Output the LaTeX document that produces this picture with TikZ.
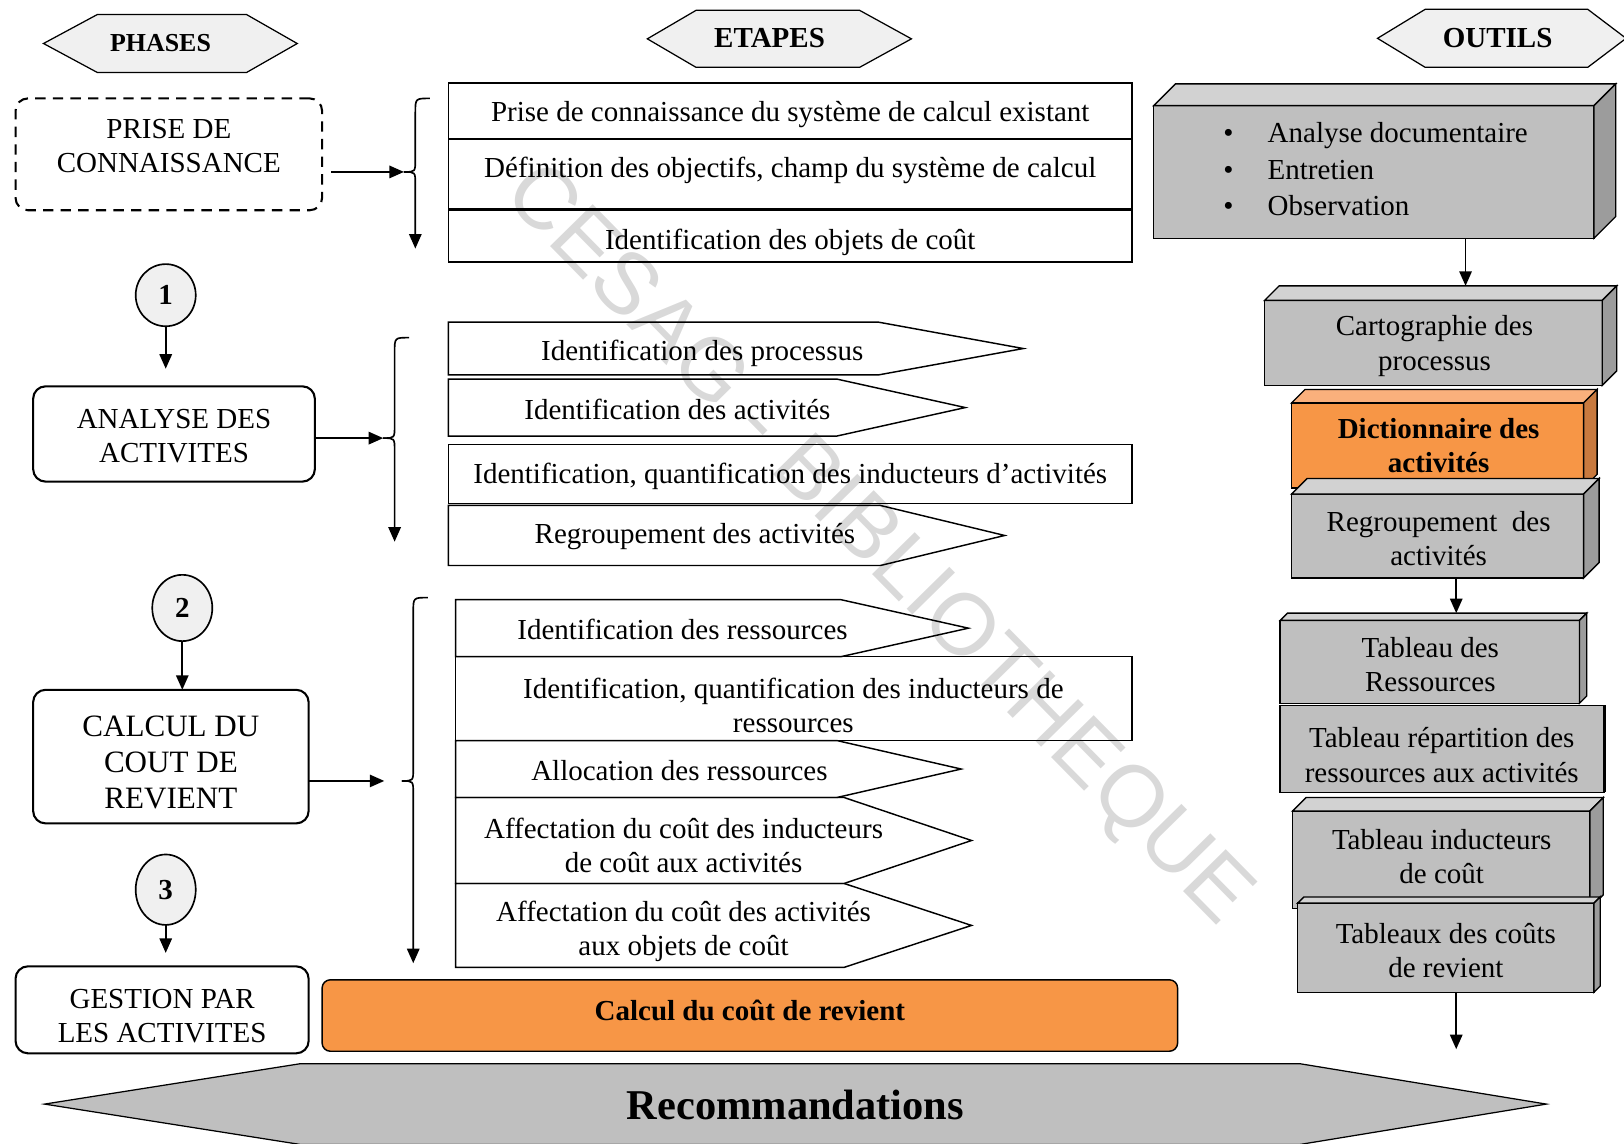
\documentclass[tikz,border=0pt]{standalone}
\usepackage{fontspec}
\setmainfont{Liberation Serif}
\newfontfamily\markfont{Liberation Sans}
\usetikzlibrary{arrows.meta,shapes.geometric}

\definecolor{hdrfill}{HTML}{F0F0F0}
\definecolor{boxfront}{HTML}{BFBFBF}
\definecolor{boxtop}{HTML}{D2D2D2}
\definecolor{boxside}{HTML}{9C9C9C}
\definecolor{orfront}{HTML}{F79646}
\definecolor{ortop}{HTML}{FAB07C}
\definecolor{orside}{HTML}{C97A3F}
\definecolor{recfill}{HTML}{BFBFBF}
\definecolor{stampgray}{HTML}{D9D9D9}

\newcommand\bodyfont{\fontsize{28}{33}\selectfont}
\newcommand\bigphase{\fontsize{30}{35}\selectfont}

% hexagonal banner: left tip x, left corner x, right corner x, right tip x, top y, bottom y, style
\newcommand\hexbanner[7]{%
  \filldraw[#7] (#1,{(#5+#6)/2}) -- (#2,#5) -- (#3,#5) -- (#4,{(#5+#6)/2}) -- (#3,#6) -- (#2,#6) -- cycle;}
% step with a pointed right end: left x, body end x, tip x, top y, bottom y
\newcommand\stepshape[5]{%
  \draw[etape] (#1,#4) -- (#2,#4) -- (#3,{(#4+#5)/2}) -- (#2,#5) -- (#1,#5) -- cycle;}
% top and side faces of a raised tool box: node, depth, top colour, side colour
\newcommand\cubefaces[4]{%
  \filldraw[fill=#3, line width=1.3pt] (#1.north west) -- ++(#2,-#2) -- ([shift={(#2,-#2)}]#1.north east) -- (#1.north east) -- cycle;
  \filldraw[fill=#4, line width=1.3pt] (#1.north east) -- ++(#2,-#2) -- ([shift={(#2,-#2)}]#1.south east) -- (#1.south east) -- cycle;}
% curly brace: spine x, top y, cusp y, bottom y, cusp name
\newcommand\bracearrow[5]{%
  \coordinate (#5) at (#1-11,#3);
  \draw[line width=1.6pt] (#1+14,#2) .. controls (#1,#2) .. (#1,#2+14) -- (#1,#3-12) .. controls (#1,#3) .. (#5);
  \draw[arr] (#5) .. controls (#1,#3) .. (#1,#3+12) -- (#1,#4);}

\begin{document}
\begin{tikzpicture}[x=1pt,y=-1pt,line join=miter,
  arr/.style={line width=1.6pt,-{Triangle[length=14pt,width=12pt]}},
  hdr/.style={fill=hdrfill,draw,line width=1.2pt},
  txt/.style={font=\bodyfont,inner sep=0pt,align=center},
  lc/.style={yshift=-3pt},
  boldtxt/.style={font=\bodyfont\bfseries,inner sep=0pt,align=center},
  phasebox/.style={draw,line width=2pt,rounded corners=12pt,fill=white,inner sep=0pt,outer sep=0pt},
  etape/.style={draw,line width=1.4pt},
  num/.style={ellipse,draw,line width=1.6pt,fill=hdrfill,inner sep=0pt,outer sep=0pt,font=\bodyfont\bfseries},
  tool/.style={draw,line width=1.3pt,fill=boxfront,inner sep=0pt,outer sep=0pt},
  ortool/.style={draw,line width=1.3pt,fill=orfront,inner sep=0pt,outer sep=0pt}]
\useasboundingbox (0,0) rectangle (1568,1104);

% ---- library stamp, behind the steps ----
\node[inner sep=0pt,rotate=-45.5,text=stampgray,font=\markfont\fontsize{84}{84}\selectfont] (stamp) at (846,528) {CESAG - BIBLIOTHEQUE};

% ---- column headers ----
\hexbanner{42}{94}{238}{287}{14}{70}{hdr}
\node[boldtxt,font=\fontsize{25}{30}\selectfont\bfseries] (hphases) at (155,42) {PHASES};
\hexbanner{625}{672}{830}{880}{10}{65}{hdr}
\node[boldtxt] (hetapes) at (743,37) {ETAPES};
\hexbanner{1330}{1376}{1533}{1570}{9}{65}{hdr}
\node[boldtxt] (houtils) at (1446,37) {OUTILS};

% ---- phases ----
\node[phasebox,dashed,dash pattern=on 10pt off 7pt,minimum width=296pt,minimum height=108pt] (prise) at (163,149) {};
\node[txt] (prisetxt) at (163,141) {PRISE DE\\CONNAISSANCE};

\node[num,minimum width=58pt,minimum height=60pt] (n1) at (160,285) {1};
\coordinate (n1end) at (160,356);
\draw[arr] (n1) -- (n1end);

\node[phasebox,minimum width=272pt,minimum height=92pt] (analyse) at (168,419) {};
\node[txt] (analysetxt) at (168,421) {ANALYSE DES\\ACTIVITES};

\node[num,minimum width=58pt,minimum height=64pt] (n2) at (176,587) {2};

\node[phasebox,minimum width=266pt,minimum height=129pt] (calcul) at (165,730.5) {};
\node[txt,font=\bigphase] (calcultxt) at (165,736) {CALCUL DU\\COUT DE\\REVIENT};
\draw[arr] (n2) -- (n2 |- calcul.north);

\node[num,minimum width=58pt,minimum height=68pt] (n3) at (160,859) {3};
\coordinate (n3end) at (160,920);
\draw[arr] (n3) -- (n3end);

\node[phasebox,minimum width=283pt,minimum height=84pt] (gestion) at (156.5,975) {};
\node[txt] (gestiontxt) at (156.5,981) {GESTION PAR\\LES ACTIVITES};

% ---- braces gathering the steps ----
\bracearrow{401}{95}{166}{240}{cusp1}
\draw[arr] (320,166) -- (cusp1);
\bracearrow{381}{326}{423}{523}{cusp2}
\draw[arr] (analyse.east |- cusp2) -- (cusp2);
\bracearrow{399}{577}{754}{930}{cusp3}
\coordinate (cusp3in) at (371,754);
\draw[arr] (calcul.east |- cusp3in) -- (cusp3in);

% ---- steps: first phase ----
\draw[etape] (433,80) rectangle (1093,134);
\draw[etape] (433,134) rectangle (1093,202);
\draw[etape] (433,203) rectangle (1093,253);
\node[txt,lc] (e11) at (763,108) {Prise de connaissance du système de calcul existant};
\node[txt,lc] (e12) at (763,162) {Définition des objectifs, champ du système de calcul};
\node[txt,lc] (e13) at (763,231) {Identification des objets de coût};

% ---- steps: second phase ----
\stepshape{433}{848}{988}{311}{362}
\node[txt,lc] (e21) at (678,338) {Identification des processus};
\stepshape{433}{808}{932}{366}{421}
\node[txt,lc] (e22) at (654,392) {Identification des activités};
\draw[etape] (433,429) rectangle (1093,486);
\node[txt,lc] (e23) at (763,457) {Identification, quantification des inducteurs d’activités};
\stepshape{433}{850}{970}{488}{546}
\node[txt,lc] (e24) at (671,515) {Regroupement des activités};

% ---- steps: third phase ----
\stepshape{440}{812}{935}{579}{634}
\node[txt,lc] (e31) at (659,605) {Identification des ressources};
\draw[etape] (440,634) rectangle (1093,715);
\node[txt,lc] (e32) at (766,678) {Identification, quantification des inducteurs de\\ressources};
\stepshape{440}{808}{928}{715}{770}
\node[txt,lc] (e33) at (656,741) {Allocation des ressources};
\stepshape{440}{815}{938}{770}{853}
\node[txt,lc] (e34) at (660,813) {Affectation du coût des inducteurs\\de coût aux activités};
\stepshape{440}{815}{938}{853}{934}
\node[txt,lc] (e35) at (660,896) {Affectation du coût des activités\\aux objets de coût};

% ---- result bars ----
\node[draw,line width=1.4pt,rounded corners=8pt,fill=orfront,minimum width=826pt,minimum height=69pt,inner sep=0pt] (calcbar) at (724,980.5) {};
\node[boldtxt] (calcbartxt) at (724,976) {Calcul du coût de revient};
\hexbanner{43}{290}{1255}{1493}{1027}{1105}{fill=recfill,draw,line width=1.2pt}
\node[boldtxt,font=\fontsize{41}{46}\selectfont\bfseries] (reco) at (768,1067) {Recommandations};

% ---- tools ----
\node[tool,minimum width=425pt,minimum height=128pt] (tA) at (1326.5,166) {};
\cubefaces{tA}{21}{boxtop}{boxside}
\node[anchor=west,inner sep=0pt,font=\fontsize{28}{35}\selectfont] (tAtxt) at (1181,166)
  {\begin{tabular}{@{}l@{\hspace{33pt}}l@{}}\textbullet & Analyse documentaire\\ \textbullet & Entretien\\ \textbullet & Observation\end{tabular}};

\node[tool,minimum width=326pt,minimum height=82pt] (tB) at (1384,331) {};
\cubefaces{tB}{14}{boxtop}{boxside}
\node[txt,lc] (tBtxt) at (1385,331) {Cartographie des\\processus};
\coordinate (tBtop) at (1415,276);
\draw[arr] (tA.south -| tBtop) -- (tBtop);

\node[ortool,minimum width=282pt,minimum height=82pt] (tC) at (1388,430) {};
\cubefaces{tC}{13}{ortop}{orside}
\node[boldtxt] (tCtxt) at (1389,430) {Dictionnaire des\\activités};

\node[tool,minimum width=282pt,minimum height=81pt] (tD) at (1388,517.5) {};
\cubefaces{tD}{15}{boxtop}{boxside}
\node[txt,lc] (tDtxt) at (1389,517) {Regroupement\ \ des\\activités};

\node[tool,minimum width=289pt,minimum height=80pt] (tE) at (1380.5,639) {};
\cubefaces{tE}{7}{boxtop}{boxside}
\node[txt,lc] (tEtxt) at (1381,639) {Tableau des\\Ressources};
\coordinate (tEtop) at (1406,592);
\draw[arr] (tD.south -| tEtop) -- (tEtop);

\node[tool,minimum width=313pt,minimum height=84pt] (tF) at (1392.5,723) {};
\draw[line width=3pt] (tF.north east) -- (tF.south east);
\node[txt,lc] (tFtxt) at (1392,726) {Tableau répartition des\\ressources aux activités};

\node[tool,minimum width=287pt,minimum height=94pt] (tG) at (1391.5,830) {};
\cubefaces{tG}{13}{boxtop}{boxside}
\node[txt,lc] (tGtxt) at (1392,824) {Tableau inducteurs\\de coût};

\node[tool,minimum width=286pt,minimum height=86pt] (tH) at (1396,915) {};
\cubefaces{tH}{6}{boxtop}{boxside}
\node[txt,lc] (tHtxt) at (1396,915) {Tableaux des coûts\\de revient};
\coordinate (tHend) at (1406,1013);
\draw[arr] (tH.south -| tHend) -- (tHend);
\end{tikzpicture}
\end{document}
